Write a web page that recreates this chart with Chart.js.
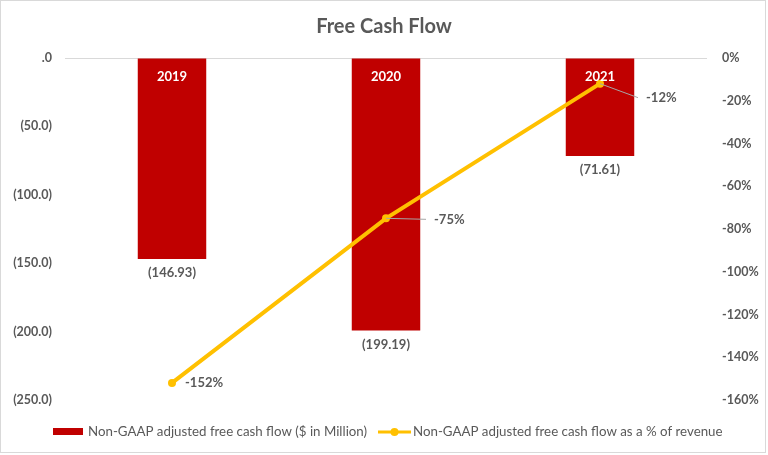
<!DOCTYPE html>
<html>
<head>
<meta charset="utf-8">
<script src="https://cdn.jsdelivr.net/npm/chart.js@4"></script>
<style>
  html, body { margin: 0; padding: 0; background: #fff; }
  #wrap { position: relative; width: 768px; height: 455px; }
  #frame { position: absolute; left: 0; top: 0; width: 764px; height: 451px; border: 1px solid #d9d9d9; box-sizing: content-box; pointer-events: none; }
</style>
</head>
<body>
<div id="wrap">
  <canvas id="chart-fcf" width="768" height="455"></canvas>
  <div id="frame"></div>
</div>
<script>
const YEARS = ['2019', '2020', '2021'];
const FCF_MILLION = [-146.93, -199.19, -71.61];
const FCF_PCT_REVENUE = [-152, -75, -12];
const LEFT_TICKS = [0, -50, -100, -150, -200, -250];
const RIGHT_TICKS = [0, -20, -40, -60, -80, -100, -120, -140, -160];

const RED = '#C00000';
const GOLD = '#FFC000';
const GREY_TEXT = '#595959';
const FONT = 'Lato, "Open Sans", sans-serif';

// where the % labels sit relative to their point (style only)
const PCT_LABEL_OFFSETS = [
  { dx: 13, dy: 0, leader: false },
  { dx: 48, dy: 1, leader: true },
  { dx: 46, dy: 14, leader: true }
];

const labelPlugin = {
  id: 'fcfLabels',
  afterDatasetsDraw(chart) {
    const ctx = chart.ctx;
    const barMeta = chart.getDatasetMeta(0);
    const lineMeta = chart.getDatasetMeta(1);

    ctx.save();
    ctx.textAlign = 'center';
    ctx.textBaseline = 'middle';
    barMeta.data.forEach((bar, i) => {
      // year inside top of bar
      ctx.fillStyle = '#ffffff';
      ctx.font = 'bold 13px ' + FONT;
      ctx.fillText(YEARS[i], bar.x, bar.base + 18);
      // value under bar
      ctx.fillStyle = GREY_TEXT;
      ctx.font = 'bold 13px ' + FONT;
      ctx.fillText('(' + Math.abs(FCF_MILLION[i]).toFixed(2) + ')', bar.x, bar.y + 14);
    });

    ctx.textAlign = 'left';
    lineMeta.data.forEach((pt, i) => {
      const off = PCT_LABEL_OFFSETS[i];
      const lx = pt.x + off.dx;
      const ly = pt.y + off.dy;
      if (off.leader) {
        ctx.strokeStyle = '#a6a6a6';
        ctx.lineWidth = 1;
        ctx.beginPath();
        ctx.moveTo(pt.x, pt.y);
        ctx.lineTo(lx - 8, ly);
        ctx.stroke();
      }
      ctx.fillStyle = GREY_TEXT;
      ctx.font = 'bold 13px ' + FONT;
      ctx.fillText(FCF_PCT_REVENUE[i] + '%', lx, ly);
    });
    ctx.restore();
  },
  afterDraw(chart) {
    // legend along the bottom
    const ctx = chart.ctx;
    const y = 432;
    ctx.save();
    ctx.fillStyle = RED;
    ctx.fillRect(53, y - 4, 30, 7);
    ctx.font = '13.3px ' + FONT;
    ctx.fillStyle = GREY_TEXT;
    ctx.textBaseline = 'middle';
    ctx.textAlign = 'left';
    ctx.fillText(chart.data.datasets[0].label, 88, y);

    ctx.strokeStyle = GOLD;
    ctx.lineWidth = 3;
    ctx.beginPath();
    ctx.moveTo(378, y);
    ctx.lineTo(411, y);
    ctx.stroke();
    ctx.fillStyle = GOLD;
    ctx.beginPath();
    ctx.arc(394.5, y, 4, 0, Math.PI * 2);
    ctx.fill();
    ctx.fillStyle = GREY_TEXT;
    ctx.fillText(chart.data.datasets[1].label, 413, y);
    ctx.restore();
  }
};

new Chart(document.getElementById('chart-fcf'), {
  data: {
    labels: YEARS,
    datasets: [
      {
        type: 'bar',
        label: 'Non-GAAP adjusted free cash flow ($ in Million)',
        data: FCF_MILLION,
        backgroundColor: RED,
        barPercentage: 0.32,
        categoryPercentage: 1,
        yAxisID: 'y',
        order: 2
      },
      {
        type: 'line',
        label: 'Non-GAAP adjusted free cash flow as a % of revenue',
        data: FCF_PCT_REVENUE,
        borderColor: GOLD,
        backgroundColor: GOLD,
        borderWidth: 4,
        pointRadius: 4,
        pointBackgroundColor: GOLD,
        pointBorderWidth: 0,
        tension: 0,
        yAxisID: 'y1',
        order: 1
      }
    ]
  },
  options: {
    responsive: false,
    animation: false,
    layout: { padding: { left: 0, right: 0, top: 0, bottom: 55 } },
    plugins: {
      legend: { display: false },
      tooltip: { enabled: false },
      title: {
        display: true,
        text: 'Free Cash Flow',
        color: GREY_TEXT,
        font: { family: FONT, size: 20, weight: 'bold' },
        padding: { top: 15, bottom: 19 }
      }
    },
    scales: {
      x: {
        display: false,
        offset: true
      },
      y: {
        position: 'left',
        min: -250,
        max: 0,
        afterBuildTicks(scale) { scale.ticks = LEFT_TICKS.map(v => ({ value: v })); },
        afterFit(scale) { scale.width = 65; },
        border: { display: false },
        grid: {
          color: c => (c.tick && c.tick.value === 0 ? '#d9d9d9' : 'rgba(0,0,0,0)'),
          drawTicks: false
        },
        ticks: {
          color: GREY_TEXT,
          padding: 13,
          font: { family: FONT, size: 12.5, weight: 'bold' },
          callback: v => (v === 0 ? '.0' : '(' + Math.abs(v).toFixed(1) + ')')
        }
      },
      y1: {
        position: 'right',
        min: -160,
        max: 0,
        afterBuildTicks(scale) { scale.ticks = RIGHT_TICKS.map(v => ({ value: v })); },
        afterFit(scale) { scale.width = 61; },
        border: { display: false },
        grid: { display: false, drawTicks: false },
        ticks: {
          color: GREY_TEXT,
          padding: 15,
          font: { family: FONT, size: 12.5, weight: 'bold' },
          callback: v => v + '%'
        }
      }
    }
  },
  plugins: [labelPlugin]
});
</script>
</body>
</html>
